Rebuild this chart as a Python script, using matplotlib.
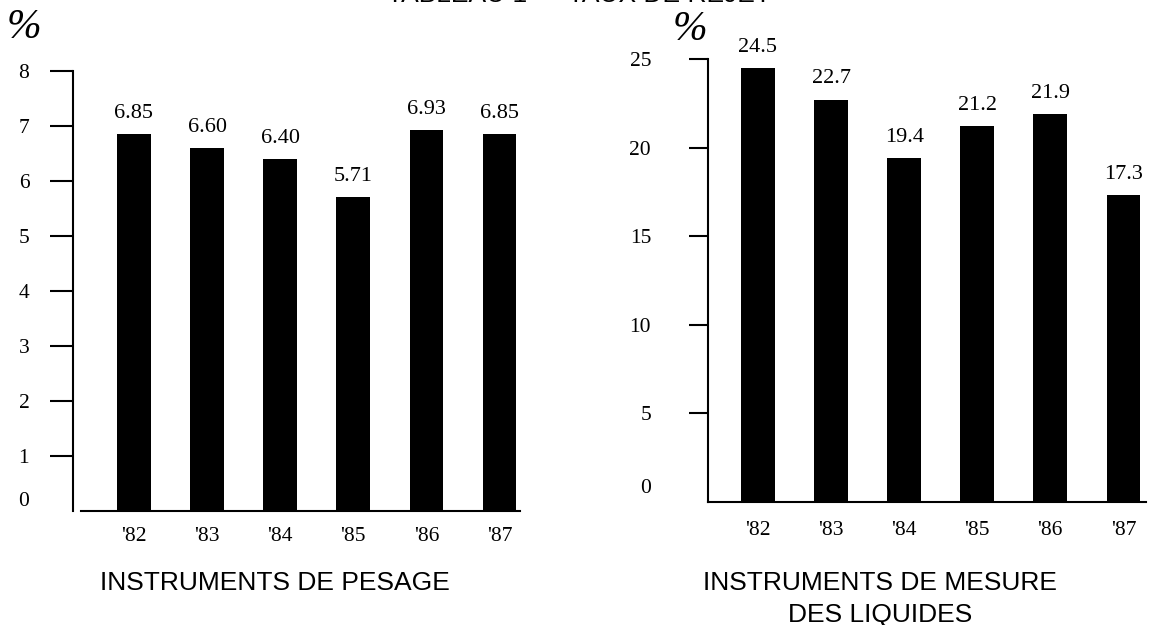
import matplotlib.pyplot as plt

W, H = 1149, 625

years = ["'82", "'83", "'84", "'85", "'86", "'87"]
pesage = [6.85, 6.60, 6.40, 5.71, 6.93, 6.85]
liquides = [24.5, 22.7, 19.4, 21.2, 21.9, 17.3]
pesage_labels = ["6.85", "6.60", "6.40", "5.71", "6.93", "6.85"]
liquides_labels = ["24.5", "22.7", "19.4", "21.2", "21.9", "17.3"]
pesage_ticks = [1, 2, 3, 4, 5, 6, 7, 8]
liquides_ticks = [5, 10, 15, 20, 25]

SERIF = "Liberation Serif"
SANS = "Liberation Sans"


def px_box(x0, x1, ytop, ybot):
    # axes rectangle from pixel coordinates (origin top-left)
    return [x0 / W, 1 - ybot / H, (x1 - x0) / W, (ybot - ytop) / H]


def bar_panel(ax, values, labels, ticks, ymax, xlim, tick_len, tick_pad, xpad, zero_dy):
    x = list(range(len(values)))
    ax.bar(x, values, width=0.46, color="black", zorder=2)
    ax.set_xlim(*xlim)
    ax.set_ylim(0, ymax)

    for s in ("top", "right"):
        ax.spines[s].set_visible(False)
    for s in ("left", "bottom"):
        ax.spines[s].set_linewidth(1.5)

    ax.set_xticks(x)
    ax.set_xticklabels(years, fontfamily=SERIF, fontsize=15.5)
    ax.tick_params(axis="x", length=0, pad=xpad)

    ax.set_yticks(ticks)
    ax.set_yticklabels([str(t) for t in ticks], fontfamily=SERIF, fontsize=15.5)
    ax.tick_params(axis="y", direction="out", length=tick_len, width=1.5,
                   pad=tick_pad)

    # "0" sits a bit above the baseline and has no tick mark
    ax.annotate("0", xy=(0, 0), xycoords=("axes fraction", "data"),
                xytext=(-(tick_len + tick_pad), zero_dy), textcoords="offset points",
                ha="right", va="center", fontfamily=SERIF, fontsize=15.5)

    for xi, v, lab in zip(x, values, labels):
        ax.annotate(lab, xy=(xi, v), xytext=(0, 15), textcoords="offset points",
                    ha="center", va="center", fontfamily=SERIF, fontsize=16)


fig = plt.figure(figsize=(W / 100, H / 100), dpi=100)

ax1 = fig.add_axes(px_box(73, 520, 71, 511))
bar_panel(ax1, pesage, pesage_labels, pesage_ticks, 8,
          (-0.834, 5.28), tick_len=16.5, tick_pad=15, xpad=11.5, zero_dy=6.5)
ax1.spines["bottom"].set_bounds(-0.72, 5.28)

ax2 = fig.add_axes(px_box(708, 1146, 59, 502))
bar_panel(ax2, liquides, liquides_labels, liquides_ticks, 25,
          (-0.684, 5.31), tick_len=14, tick_pad=27, xpad=14, zero_dy=9.5)

# percent signs above each axis
fig.text(24 / W, 1 - 28 / H, "%", fontfamily=SERIF, style="italic", fontsize=30,
         ha="center", va="center")
fig.text(690 / W, 1 - 30 / H, "%", fontfamily=SERIF, style="italic", fontsize=30,
         ha="center", va="center")

# panel captions
fig.text(275 / W, 1 - 583 / H, "INSTRUMENTS DE PESAGE", fontfamily=SANS,
         fontsize=19, ha="center", va="center")
fig.text(880 / W, 1 - 583 / H, "INSTRUMENTS DE MESURE", fontfamily=SANS,
         fontsize=19, ha="center", va="center")
fig.text(880 / W, 1 - 615 / H, "DES LIQUIDES", fontfamily=SANS,
         fontsize=19, ha="center", va="center")

# heading, mostly cut off by the top edge
fig.text(579 / W, 1 - 2 / H, "TABLEAU 1 \u2014 TAUX DE REJET", fontfamily=SANS,
         fontsize=19, ha="center", va="baseline")

fig.savefig("out.png", dpi=100)
